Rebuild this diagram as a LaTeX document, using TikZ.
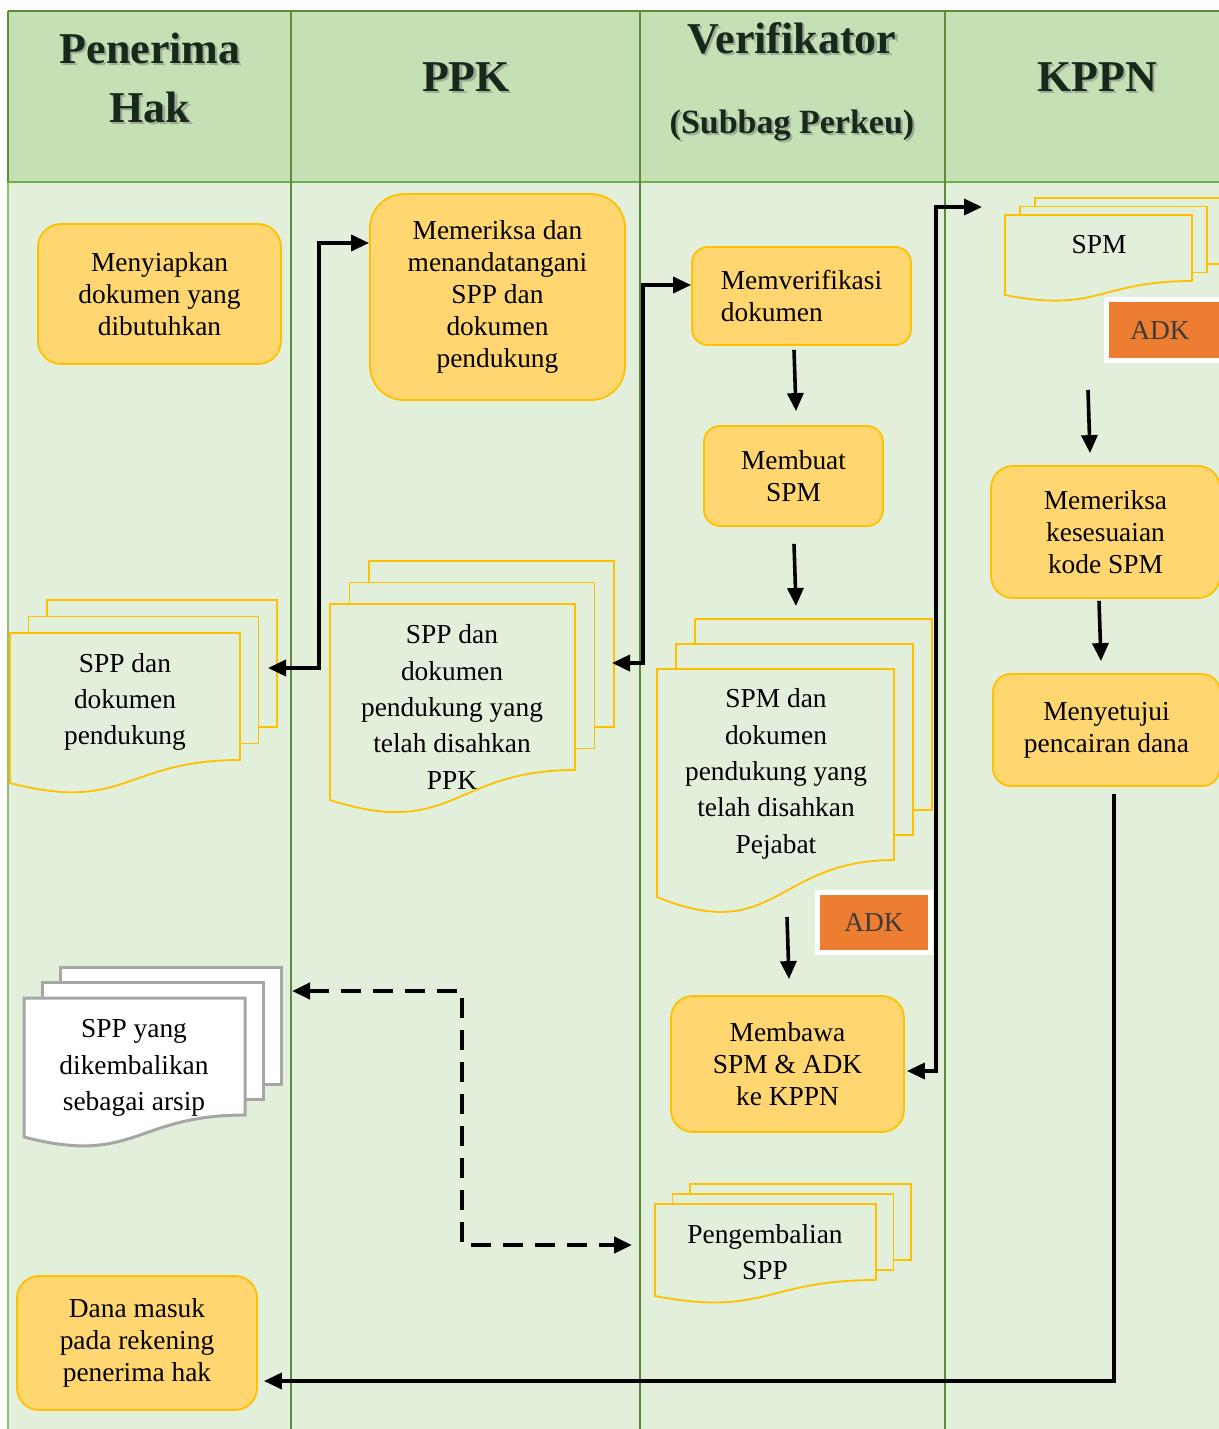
\documentclass[tikz,border=0pt]{standalone}
\usepackage{fontspec}
\setmainfont{Liberation Serif}
\usetikzlibrary{arrows.meta,calc}

\definecolor{lanebg}{HTML}{E2EFDA}
\definecolor{headbg}{HTML}{C5E0B4}
\definecolor{laneline}{HTML}{5B8C3A}
\definecolor{edgeline}{HTML}{8CC06A}
\definecolor{headline}{HTML}{70AD47}
\definecolor{boxfill}{HTML}{FFD670}
\definecolor{boxline}{HTML}{FFC000}
\definecolor{adkfill}{HTML}{ED7D31}
\definecolor{adktext}{HTML}{3B3B3B}
\definecolor{arsipline}{HTML}{A6A6A6}
\definecolor{headtext}{HTML}{18281A}

% #1 style, #2 x1, #3 top, #4 x2, #5 right bottom, #6 left bottom, #7 dx, #8 dy
\newcommand{\mdoc}[8]{%
  \draw[#1] ({#2+2*#7},{#3-2*#8}) rectangle ({#4+2*#7},{#5-2*#8});
  \draw[#1] ({#2+#7},{#3-#8}) rectangle ({#4+#7},{#5-#8});
  \draw[#1] (#2,#3) -- (#4,#3) -- (#4,#5)
     .. controls ({(#2+#4)/2},#5) and ({(#2+#4)/2},{#5+2.314*(#6-#5)}) .. (#2,#6) -- cycle;
}

\tikzset{
  procbox/.style={draw=boxline, fill=boxfill, line width=0.9pt, align=center,
     font=\fontsize{13.7}{16}\selectfont, inner sep=0pt},
  doctext/.style={align=center, font=\fontsize{13.7}{18.2}\selectfont, inner sep=0pt},
  docshape/.style={draw=boxline, fill=lanebg, line width=0.9pt},
  arsipshape/.style={draw=arsipline, fill=white, line width=1.5pt},
  flow/.style={line width=1.8pt, draw=black},
  arrboth/.style={{Triangle[length=9pt,width=8pt]}-{Triangle[length=9pt,width=8pt]}},
  arrend/.style={-{Triangle[length=9pt,width=8pt]}},
  dashflow/.style={line width=2.2pt, draw=black, dash pattern=on 10pt off 6pt},
  headtxt/.style={font=\fontsize{22}{26}\bfseries\selectfont, text=headtext, inner sep=0pt},
  headsub/.style={font=\fontsize{17}{20}\bfseries\selectfont, text=headtext, inner sep=0pt},
  headshadow/.style={text=black!50, opacity=0.55, xshift=1.1pt, yshift=-1.1pt},
  adkbox/.style={fill=adkfill, draw=white, line width=2.5pt, inner sep=0pt,
     text=adktext, font=\fontsize{13.7}{16}\selectfont}
}

\begin{document}
\begin{tikzpicture}[x=0.5pt,y=-0.5pt]
\fill[white] (0,0) rectangle (1219,1429);
\useasboundingbox (0,0) rectangle (1219,1429);

% lanes
\fill[lanebg] (8,182) rectangle (1235,1440);
\fill[headbg] (8,11) rectangle (1235,182);
\draw[headline, line width=1.2pt] (8,182) -- (1235,182);
\draw[laneline, line width=1.1pt] (8,11) -- (1235,11);
\draw[laneline, line width=1.1pt] (8,11) -- (8,182);
\draw[edgeline, line width=1.1pt] (8,182) -- (8,1440);
\draw[laneline, line width=1.1pt] (291,11) -- (291,1440);
\draw[laneline, line width=1.1pt] (640,11) -- (640,1440);
\draw[laneline, line width=1.1pt] (945,11) -- (945,1440);

% headers
\node[headtxt, headshadow] (h1s) at (150,48) {Penerima};
\node[headtxt] (h1) at (150,48) {Penerima};
\node[headtxt, headshadow] (h1bs) at (150,107) {Hak};
\node[headtxt] (h1b) at (150,107) {Hak};
\node[headtxt, headshadow] (h2s) at (466,77) {PPK};
\node[headtxt] (h2) at (466,77) {PPK};
\node[headtxt, headshadow] (h3s) at (792,38) {Verifikator};
\node[headtxt] (h3) at (792,38) {Verifikator};
\node[headsub, headshadow] (h3bs) at (792,125) {(Subbag Perkeu)};
\node[headsub] (h3b) at (792,125) {(Subbag Perkeu)};
\node[headtxt, headshadow] (h4s) at (1097,77) {KPPN};
\node[headtxt] (h4) at (1097,77) {KPPN};

% process boxes
\node[procbox, minimum width=121.5pt, minimum height=70pt, rounded corners=11.5pt] (box1) at (159.5,294) {Menyiapkan\\dokumen yang\\dibutuhkan};
\node[procbox, minimum width=127.5pt, minimum height=103pt, rounded corners=17pt] (box2) at (497.5,297) {Memeriksa dan\\menandatangani\\SPP dan\\dokumen\\pendukung};
\node[procbox, align=left, minimum width=109.5pt, minimum height=49pt, rounded corners=8pt] (box3) at (801.5,296) {Memverifikasi\\dokumen};
\node[procbox, minimum width=89.5pt, minimum height=50pt, rounded corners=8pt] (box4) at (793.5,476) {Membuat\\SPM};
\node[procbox, minimum width=114.5pt, minimum height=66pt, rounded corners=11pt] (box5) at (1105.5,532) {Memeriksa\\kesesuaian\\kode SPM};
\node[procbox, minimum width=113.5pt, minimum height=56pt, rounded corners=9pt] (box6) at (1106.5,730) {Menyetujui\\pencairan dana};
\node[procbox, minimum width=116.5pt, minimum height=68pt, rounded corners=11pt] (box7) at (787.5,1064) {Membawa\\SPM \& ADK\\ke KPPN};
\node[procbox, minimum width=120pt, minimum height=67pt, rounded corners=11pt] (box8) at (137,1343) {Dana masuk\\pada rekening\\penerima hak};

% documents
\mdoc{docshape}{10}{633}{240}{760}{783}{18.5}{16.5}
\node[doctext] (docA) at (125,702) {SPP dan\\dokumen\\pendukung};

\mdoc{docshape}{330}{604}{575}{770}{800}{19.5}{21.5}
\node[doctext] (docB) at (452,707) {SPP dan\\dokumen\\pendukung yang\\telah disahkan\\PPK};

\mdoc{docshape}{657}{669}{894}{860}{897}{19}{25}
\node[doctext] (docC) at (776,774) {SPM dan\\dokumen\\pendukung yang\\telah disahkan\\Pejabat};

\mdoc{docshape}{1005}{215}{1192}{281}{295}{15}{8.5}
\node[doctext] (docD) at (1099,245) {SPM};

\mdoc{arsipshape}{24}{998}{245}{1115}{1137}{18}{15.5}
\node[doctext] (docE) at (134,1068) {SPP yang\\dikembalikan\\sebagai arsip};

\mdoc{docshape}{655}{1204}{876}{1280}{1296}{17.5}{10}
\node[doctext] (docF) at (765,1252) {Pengembalian\\SPP};

% ADK boxes
\node[adkbox, minimum width=60pt, minimum height=30.5pt] (adk1) at (1166,330) {};
\node[text=adktext, font=\fontsize{13.7}{16}\selectfont, inner sep=0pt] (adk1t) at (1160,330) {ADK};
\node[adkbox, minimum width=56.75pt, minimum height=30pt] (adk2) at (874,922.5) {ADK};

% connector ends
\coordinate (docAin) at (268,668);
\coordinate (docBin) at (612,663);
\coordinate (docCtop) at (796,606);
\coordinate (docCbot) at (787,917);
\coordinate (docDin) at (982,207);
\coordinate (docDbot) at (1088,390);
\coordinate (docEin) at (292,991);
\coordinate (docFin) at (632,1245);

% connectors
\draw[flow, arrboth] (docAin) -- ++(51,0) |- ([yshift=27pt]box2.west);
\draw[flow, arrboth] (docBin) -- ++(31,0) |- ([yshift=5.5pt]box3.west);
\draw[flow, arrend] ([xshift=-3.75pt,yshift=-2pt]box3.south) -- ([xshift=1.25pt,yshift=7pt]box4.north);
\draw[flow, arrend] ([xshift=0.25pt,yshift=-8.5pt]box4.south) -- (docCtop);
\draw[flow, arrend] (docCbot) -- ([xshift=0.75pt,yshift=8pt]box7.north);
\draw[flow, arrboth] ([xshift=1pt,yshift=-3.5pt]box7.east) -- ++(29,0) |- (docDin);
\draw[flow, arrend] (docDbot) -- ([xshift=-7.75pt,yshift=6pt]box5.north);
\draw[flow, arrend] ([xshift=-3.25pt,yshift=-1pt]box5.south) -- ([xshift=-2.75pt,yshift=6pt]box6.north);
\draw[flow, arrend] ([xshift=3.75pt,yshift=-3.5pt]box6.south) |- ([xshift=3pt,yshift=-19pt]box8.east);
\draw[dashflow, arrboth] (docEin) -- ++(170,0) |- (docFin);
\end{tikzpicture}
\end{document}
